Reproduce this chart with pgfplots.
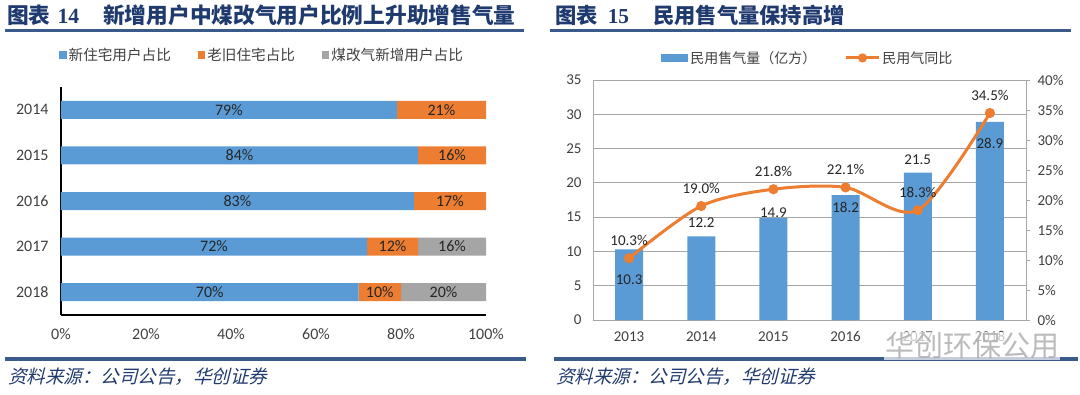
\documentclass[border=0pt]{standalone}
\usepackage{fontspec}
\setmainfont{Carlito}
\newfontfamily\cjk{Noto Sans CJK SC}
\newfontfamily\cjkit{Noto Sans CJK SC}[FakeSlant=0.25]
\newfontfamily\tnr{Liberation Serif}
\usepackage{pgfplots}
\pgfplotsset{compat=1.18}
\definecolor{cblue}{HTML}{5B9BD5}
\definecolor{corange}{HTML}{ED7D31}
\definecolor{cgray}{HTML}{A5A5A5}
\definecolor{navy}{HTML}{1F3A6E}
\definecolor{rulec}{HTML}{3A5A8C}
\definecolor{txt}{HTML}{404040}
\definecolor{lbl}{HTML}{262626}
\definecolor{gridc}{HTML}{A6A6A6}
\pgfplotsset{/pgf/number format/assume math mode=true,
  sqlegend/.style={legend image code/.code={\fill[##1] (0pt,-3.8pt) rectangle (7.5pt,3.8pt);}},
  barlegend/.style={legend image code/.code={\fill[cblue] (0pt,-4pt) rectangle (27pt,4pt);}},
  linelegend/.style={legend image code/.code={\draw[mark repeat=2,mark phase=2,##1] plot coordinates {(0pt,0pt) (16.5pt,0pt) (33pt,0pt)};}},
}
\begin{document}
\begin{tikzpicture}[x=1pt,y=1pt]
\path[use as bounding box] (0,0) rectangle (1080,-394);
% titles
\node[anchor=west, inner sep=0, text=navy] at (7,-15) {\cjk\bfseries\fontsize{21.7}{24}\selectfont 图表\hspace{7pt}{\tnr\bfseries 14}\hspace{24pt}新增用户中煤改气用户比例上升助增售气量};
\node[anchor=west, inner sep=0, text=navy] at (555,-15) {\cjk\bfseries\fontsize{21.3}{24}\selectfont 图表\hspace{10pt}{\tnr\bfseries 15}\hspace{24pt}民用售气量保持高增};
\draw[rulec, line width=3pt] (5,-30) -- (524,-30);
\draw[rulec, line width=3pt] (550,-30) -- (1071,-30);
\draw[rulec, line width=3.5pt] (5,-359) -- (526,-359);
\draw[rulec, line width=3.5pt] (554,-359) -- (1078,-359);
\node[anchor=west, inner sep=0, text=navy] at (8,-377) {\cjkit\fontsize{18.5}{21}\selectfont 资料来源：公司公告，华创证券};
\node[anchor=west, inner sep=0, text=navy] at (556,-377) {\cjkit\fontsize{18.5}{21}\selectfont 资料来源：公司公告，华创证券};

% ---------- left chart ----------
\begin{axis}[at={(61pt,-315pt)}, anchor=south west, scale only axis, width=425pt, height=228pt,
  xbar stacked, bar width=18pt,
  xmin=0, xmax=100, ymin=-0.5, ymax=4.5,
  ytick={0,1,2,3,4}, yticklabels={2018,2017,2016,2015,2014},
  xtick={0,20,40,60,80,100}, xticklabel={\pgfmathprintnumber{\tick}\%},
  axis lines=left, axis line style={-, black, line width=1.3pt},
  major tick length=0pt,
  tick label style={font=\fontsize{16}{19}\selectfont, text=txt},
  xticklabel style={yshift=-10pt},
  yticklabel style={xshift=-9pt},
  legend columns=3,
  legend style={draw=none, fill=none, at={(0.473,1.14)}, anchor=center,
    /tikz/every even column/.append style={column sep=25pt},
    font=\cjk\fontsize{14.6}{17}\selectfont, text=txt},
  sqlegend,
]
\addplot[fill=cblue, draw=none] coordinates {(79,4) (84,3) (83,2) (72,1) (70,0)};
\addlegendentry{新住宅用户占比}
\addplot[fill=corange, draw=none] coordinates {(21,4) (16,3) (17,2) (12,1) (10,0)};
\addlegendentry{老旧住宅占比}
\addplot[fill=cgray, draw=none] coordinates {(0,4) (0,3) (0,2) (16,1) (20,0)};
\addlegendentry{煤改气新增用户占比}
\end{axis}
\begin{axis}[at={(61pt,-315pt)}, anchor=south west, scale only axis, width=425pt, height=228pt,
  xmin=0, xmax=100, ymin=-0.5, ymax=4.5, hide axis]
\addplot[draw=none, nodes near coords, point meta=explicit symbolic,
  every node near coord/.append style={anchor=center, text=lbl, font=\fontsize{16}{19}\selectfont}]
  coordinates {(39.5,4)[79\%] (89.5,4)[21\%] (42,3)[84\%] (92,3)[16\%] (41.5,2)[83\%] (91.5,2)[17\%]
  (36,1)[72\%] (78,1)[12\%] (92,1)[16\%] (35,0)[70\%] (75,0)[10\%] (90,0)[20\%]};
\end{axis}

% ---------- right chart ----------
\begin{axis}[at={(593pt,-320pt)}, anchor=south west, scale only axis, width=433pt, height=240pt,
  xmin=-0.5, xmax=5.5, ymin=0, ymax=35, ytick={0,5,...,35},
  xtick={0,1,2,3,4,5}, xticklabels={2013,2014,2015,2016,2017,2018},
  ymajorgrids, grid style={gridc, line width=0.8pt},
  axis line style={gridc, line width=1pt},
  major tick length=0pt,
  tick label style={font=\fontsize{15}{18}\selectfont, text=txt},
  xticklabel style={yshift=-8pt},
  yticklabel style={xshift=-8pt},
  bar width=28pt,
  legend columns=2,
  legend style={draw=none, fill=none, at={(0.4965,1.092)}, anchor=center,
    /tikz/every even column/.append style={column sep=26pt},
    font=\cjk\fontsize{14}{17}\selectfont, text=txt},
]
\addplot[ybar, fill=cblue, draw=none, barlegend]
  coordinates {(0,10.3) (1,12.2) (2,14.9) (3,18.2) (4,21.5) (5,28.9)};
\addlegendentry{民用售气量（亿方）}
\addlegendimage{corange, line width=3pt, mark=*, mark size=3pt, mark options={fill=corange}, linelegend}
\addlegendentry{民用气同比}
\addplot[draw=none, nodes near coords, point meta=explicit symbolic,
  every node near coord/.append style={anchor=center, text=lbl, font=\fontsize{15}{18}\selectfont}]
  coordinates {(0,5.83)[10.3] (1,14.2)[12.2] (2,15.6)[14.9] (3,16.4)[18.2] (4,23.4)[21.5] (5,25.8)[28.9]};
\end{axis}
\begin{axis}[at={(593pt,-320pt)}, anchor=south west, scale only axis, width=433pt, height=240pt,
  xmin=-0.5, xmax=5.5, ymin=0, ymax=40, ytick={0,5,...,40},
  yticklabel={\pgfmathprintnumber{\tick}\%},
  axis y line*=right, axis x line=none,
  axis line style={-, gridc, line width=1pt},
  ytick style={gridc, line width=1pt}, tick align=outside, major tick length=4pt,
  yticklabel style={font=\fontsize{15}{18}\selectfont, text=txt, xshift=4pt},
]
\addplot[smooth, corange, line width=3pt, mark=*, mark size=3.5pt, mark options={fill=corange},
  nodes near coords, point meta=explicit symbolic,
  every node near coord/.append style={anchor=center, yshift=18pt, text=lbl, font=\fontsize{15}{18}\selectfont}]
  coordinates {(0,10.3)[10.3\%] (1,19.0)[19.0\%] (2,21.8)[21.8\%] (3,22.1)[22.1\%] (4,18.3)[18.3\%] (5,34.5)[34.5\%]};
\end{axis}
% watermark
\node[anchor=west, inner sep=1pt, fill=white, fill opacity=0.7, text opacity=0.75, text=gray!70] at (884,-346) {\cjk\fontsize{29}{31}\selectfont 华创环保公用};
\end{tikzpicture}
\end{document}
